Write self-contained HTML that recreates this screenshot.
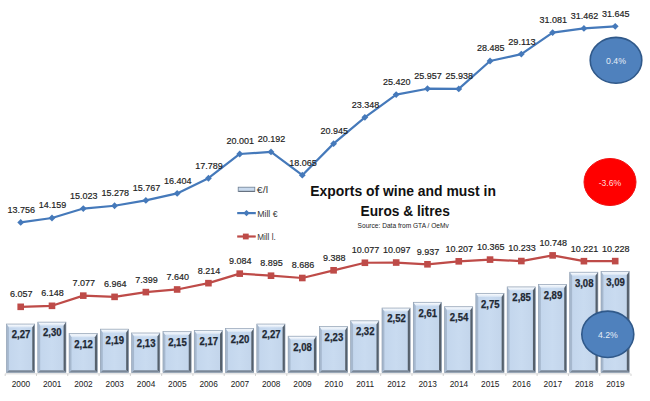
<!DOCTYPE html>
<html><head><meta charset="utf-8"><style>
html,body{margin:0;padding:0;background:#fff;}
body{width:650px;height:401px;overflow:hidden;position:relative;}
svg{position:absolute;left:0;top:0;}
text{font-family:"Liberation Sans",sans-serif;}
</style></head><body>
<svg width="650" height="401" viewBox="0 0 650 401">
<defs>
<linearGradient id="topg" x1="0" y1="0" x2="0" y2="1"><stop offset="0" stop-color="#d8e2ee"/><stop offset="0.35" stop-color="#f3f7fc"/><stop offset="1" stop-color="#d6e3f3"/></linearGradient>
<linearGradient id="bodyg" x1="0" y1="0" x2="1" y2="0"><stop offset="0" stop-color="#c2d5ec"/><stop offset="0.5" stop-color="#c9dbf0"/><stop offset="1" stop-color="#c2d4ea"/></linearGradient>
</defs>

<line x1="5.2" y1="373.8" x2="630.6" y2="373.8" stroke="#d0d0d0" stroke-width="0.8"/>
<line x1="5.20" y1="373.8" x2="5.20" y2="376" stroke="#c8c8c8" stroke-width="0.8"/>
<line x1="36.49" y1="373.8" x2="36.49" y2="376" stroke="#c8c8c8" stroke-width="0.8"/>
<line x1="67.78" y1="373.8" x2="67.78" y2="376" stroke="#c8c8c8" stroke-width="0.8"/>
<line x1="99.07" y1="373.8" x2="99.07" y2="376" stroke="#c8c8c8" stroke-width="0.8"/>
<line x1="130.36" y1="373.8" x2="130.36" y2="376" stroke="#c8c8c8" stroke-width="0.8"/>
<line x1="161.65" y1="373.8" x2="161.65" y2="376" stroke="#c8c8c8" stroke-width="0.8"/>
<line x1="192.94" y1="373.8" x2="192.94" y2="376" stroke="#c8c8c8" stroke-width="0.8"/>
<line x1="224.23" y1="373.8" x2="224.23" y2="376" stroke="#c8c8c8" stroke-width="0.8"/>
<line x1="255.52" y1="373.8" x2="255.52" y2="376" stroke="#c8c8c8" stroke-width="0.8"/>
<line x1="286.81" y1="373.8" x2="286.81" y2="376" stroke="#c8c8c8" stroke-width="0.8"/>
<line x1="318.10" y1="373.8" x2="318.10" y2="376" stroke="#c8c8c8" stroke-width="0.8"/>
<line x1="349.39" y1="373.8" x2="349.39" y2="376" stroke="#c8c8c8" stroke-width="0.8"/>
<line x1="380.68" y1="373.8" x2="380.68" y2="376" stroke="#c8c8c8" stroke-width="0.8"/>
<line x1="411.97" y1="373.8" x2="411.97" y2="376" stroke="#c8c8c8" stroke-width="0.8"/>
<line x1="443.26" y1="373.8" x2="443.26" y2="376" stroke="#c8c8c8" stroke-width="0.8"/>
<line x1="474.55" y1="373.8" x2="474.55" y2="376" stroke="#c8c8c8" stroke-width="0.8"/>
<line x1="505.84" y1="373.8" x2="505.84" y2="376" stroke="#c8c8c8" stroke-width="0.8"/>
<line x1="537.13" y1="373.8" x2="537.13" y2="376" stroke="#c8c8c8" stroke-width="0.8"/>
<line x1="568.42" y1="373.8" x2="568.42" y2="376" stroke="#c8c8c8" stroke-width="0.8"/>
<line x1="599.71" y1="373.8" x2="599.71" y2="376" stroke="#c8c8c8" stroke-width="0.8"/>
<line x1="631.00" y1="373.8" x2="631.00" y2="376" stroke="#c8c8c8" stroke-width="0.8"/>
<g>
<rect x="6.50" y="324.00" width="28.20" height="48.60" fill="url(#bodyg)"/>
<polygon points="6.50,324.00 34.70,324.00 32.30,327.60 8.90,327.60" fill="url(#topg)"/>
<polygon points="6.50,324.00 8.90,327.60 8.90,370.20 6.50,372.60" fill="#a6b8ce"/>
<polygon points="34.70,324.00 34.70,372.60 32.30,370.20 32.30,327.60" fill="#55606c"/>
<polygon points="6.50,372.60 34.70,372.60 32.30,370.20 8.90,370.20" fill="#7a8797"/>
<rect x="6.50" y="324.00" width="28.20" height="48.60" fill="none" stroke="#8e9cad" stroke-width="0.6"/>
</g>
<text x="21.00" y="338.40" font-size="10.0" font-weight="bold" fill="#1e2833" stroke="#1e2833" stroke-width="0.25" text-anchor="middle" textLength="18.6" lengthAdjust="spacingAndGlyphs">2,27</text>
<g>
<rect x="37.79" y="322.08" width="28.20" height="50.52" fill="url(#bodyg)"/>
<polygon points="37.79,322.08 65.99,322.08 63.59,325.68 40.19,325.68" fill="url(#topg)"/>
<polygon points="37.79,322.08 40.19,325.68 40.19,370.20 37.79,372.60" fill="#a6b8ce"/>
<polygon points="65.99,322.08 65.99,372.60 63.59,370.20 63.59,325.68" fill="#55606c"/>
<polygon points="37.79,372.60 65.99,372.60 63.59,370.20 40.19,370.20" fill="#7a8797"/>
<rect x="37.79" y="322.08" width="28.20" height="50.52" fill="none" stroke="#8e9cad" stroke-width="0.6"/>
</g>
<text x="52.29" y="336.48" font-size="10.0" font-weight="bold" fill="#1e2833" stroke="#1e2833" stroke-width="0.25" text-anchor="middle" textLength="18.6" lengthAdjust="spacingAndGlyphs">2,30</text>
<g>
<rect x="69.08" y="333.60" width="28.20" height="39.00" fill="url(#bodyg)"/>
<polygon points="69.08,333.60 97.28,333.60 94.88,337.20 71.48,337.20" fill="url(#topg)"/>
<polygon points="69.08,333.60 71.48,337.20 71.48,370.20 69.08,372.60" fill="#a6b8ce"/>
<polygon points="97.28,333.60 97.28,372.60 94.88,370.20 94.88,337.20" fill="#55606c"/>
<polygon points="69.08,372.60 97.28,372.60 94.88,370.20 71.48,370.20" fill="#7a8797"/>
<rect x="69.08" y="333.60" width="28.20" height="39.00" fill="none" stroke="#8e9cad" stroke-width="0.6"/>
</g>
<text x="83.58" y="348.00" font-size="10.0" font-weight="bold" fill="#1e2833" stroke="#1e2833" stroke-width="0.25" text-anchor="middle" textLength="18.6" lengthAdjust="spacingAndGlyphs">2,12</text>
<g>
<rect x="100.37" y="329.12" width="28.20" height="43.48" fill="url(#bodyg)"/>
<polygon points="100.37,329.12 128.57,329.12 126.17,332.72 102.77,332.72" fill="url(#topg)"/>
<polygon points="100.37,329.12 102.77,332.72 102.77,370.20 100.37,372.60" fill="#a6b8ce"/>
<polygon points="128.57,329.12 128.57,372.60 126.17,370.20 126.17,332.72" fill="#55606c"/>
<polygon points="100.37,372.60 128.57,372.60 126.17,370.20 102.77,370.20" fill="#7a8797"/>
<rect x="100.37" y="329.12" width="28.20" height="43.48" fill="none" stroke="#8e9cad" stroke-width="0.6"/>
</g>
<text x="114.87" y="343.52" font-size="10.0" font-weight="bold" fill="#1e2833" stroke="#1e2833" stroke-width="0.25" text-anchor="middle" textLength="18.6" lengthAdjust="spacingAndGlyphs">2,19</text>
<g>
<rect x="131.66" y="332.96" width="28.20" height="39.64" fill="url(#bodyg)"/>
<polygon points="131.66,332.96 159.86,332.96 157.46,336.56 134.06,336.56" fill="url(#topg)"/>
<polygon points="131.66,332.96 134.06,336.56 134.06,370.20 131.66,372.60" fill="#a6b8ce"/>
<polygon points="159.86,332.96 159.86,372.60 157.46,370.20 157.46,336.56" fill="#55606c"/>
<polygon points="131.66,372.60 159.86,372.60 157.46,370.20 134.06,370.20" fill="#7a8797"/>
<rect x="131.66" y="332.96" width="28.20" height="39.64" fill="none" stroke="#8e9cad" stroke-width="0.6"/>
</g>
<text x="146.16" y="347.36" font-size="10.0" font-weight="bold" fill="#1e2833" stroke="#1e2833" stroke-width="0.25" text-anchor="middle" textLength="18.6" lengthAdjust="spacingAndGlyphs">2,13</text>
<g>
<rect x="162.95" y="331.68" width="28.20" height="40.92" fill="url(#bodyg)"/>
<polygon points="162.95,331.68 191.15,331.68 188.75,335.28 165.35,335.28" fill="url(#topg)"/>
<polygon points="162.95,331.68 165.35,335.28 165.35,370.20 162.95,372.60" fill="#a6b8ce"/>
<polygon points="191.15,331.68 191.15,372.60 188.75,370.20 188.75,335.28" fill="#55606c"/>
<polygon points="162.95,372.60 191.15,372.60 188.75,370.20 165.35,370.20" fill="#7a8797"/>
<rect x="162.95" y="331.68" width="28.20" height="40.92" fill="none" stroke="#8e9cad" stroke-width="0.6"/>
</g>
<text x="177.45" y="346.08" font-size="10.0" font-weight="bold" fill="#1e2833" stroke="#1e2833" stroke-width="0.25" text-anchor="middle" textLength="18.6" lengthAdjust="spacingAndGlyphs">2,15</text>
<g>
<rect x="194.24" y="330.40" width="28.20" height="42.20" fill="url(#bodyg)"/>
<polygon points="194.24,330.40 222.44,330.40 220.04,334.00 196.64,334.00" fill="url(#topg)"/>
<polygon points="194.24,330.40 196.64,334.00 196.64,370.20 194.24,372.60" fill="#a6b8ce"/>
<polygon points="222.44,330.40 222.44,372.60 220.04,370.20 220.04,334.00" fill="#55606c"/>
<polygon points="194.24,372.60 222.44,372.60 220.04,370.20 196.64,370.20" fill="#7a8797"/>
<rect x="194.24" y="330.40" width="28.20" height="42.20" fill="none" stroke="#8e9cad" stroke-width="0.6"/>
</g>
<text x="208.74" y="344.80" font-size="10.0" font-weight="bold" fill="#1e2833" stroke="#1e2833" stroke-width="0.25" text-anchor="middle" textLength="18.6" lengthAdjust="spacingAndGlyphs">2,17</text>
<g>
<rect x="225.53" y="328.48" width="28.20" height="44.12" fill="url(#bodyg)"/>
<polygon points="225.53,328.48 253.73,328.48 251.33,332.08 227.93,332.08" fill="url(#topg)"/>
<polygon points="225.53,328.48 227.93,332.08 227.93,370.20 225.53,372.60" fill="#a6b8ce"/>
<polygon points="253.73,328.48 253.73,372.60 251.33,370.20 251.33,332.08" fill="#55606c"/>
<polygon points="225.53,372.60 253.73,372.60 251.33,370.20 227.93,370.20" fill="#7a8797"/>
<rect x="225.53" y="328.48" width="28.20" height="44.12" fill="none" stroke="#8e9cad" stroke-width="0.6"/>
</g>
<text x="240.03" y="342.88" font-size="10.0" font-weight="bold" fill="#1e2833" stroke="#1e2833" stroke-width="0.25" text-anchor="middle" textLength="18.6" lengthAdjust="spacingAndGlyphs">2,20</text>
<g>
<rect x="256.82" y="324.00" width="28.20" height="48.60" fill="url(#bodyg)"/>
<polygon points="256.82,324.00 285.02,324.00 282.62,327.60 259.22,327.60" fill="url(#topg)"/>
<polygon points="256.82,324.00 259.22,327.60 259.22,370.20 256.82,372.60" fill="#a6b8ce"/>
<polygon points="285.02,324.00 285.02,372.60 282.62,370.20 282.62,327.60" fill="#55606c"/>
<polygon points="256.82,372.60 285.02,372.60 282.62,370.20 259.22,370.20" fill="#7a8797"/>
<rect x="256.82" y="324.00" width="28.20" height="48.60" fill="none" stroke="#8e9cad" stroke-width="0.6"/>
</g>
<text x="271.32" y="338.40" font-size="10.0" font-weight="bold" fill="#1e2833" stroke="#1e2833" stroke-width="0.25" text-anchor="middle" textLength="18.6" lengthAdjust="spacingAndGlyphs">2,27</text>
<g>
<rect x="288.11" y="336.16" width="28.20" height="36.44" fill="url(#bodyg)"/>
<polygon points="288.11,336.16 316.31,336.16 313.91,339.76 290.51,339.76" fill="url(#topg)"/>
<polygon points="288.11,336.16 290.51,339.76 290.51,370.20 288.11,372.60" fill="#a6b8ce"/>
<polygon points="316.31,336.16 316.31,372.60 313.91,370.20 313.91,339.76" fill="#55606c"/>
<polygon points="288.11,372.60 316.31,372.60 313.91,370.20 290.51,370.20" fill="#7a8797"/>
<rect x="288.11" y="336.16" width="28.20" height="36.44" fill="none" stroke="#8e9cad" stroke-width="0.6"/>
</g>
<text x="302.61" y="350.56" font-size="10.0" font-weight="bold" fill="#1e2833" stroke="#1e2833" stroke-width="0.25" text-anchor="middle" textLength="18.6" lengthAdjust="spacingAndGlyphs">2,08</text>
<g>
<rect x="319.40" y="326.56" width="28.20" height="46.04" fill="url(#bodyg)"/>
<polygon points="319.40,326.56 347.60,326.56 345.20,330.16 321.80,330.16" fill="url(#topg)"/>
<polygon points="319.40,326.56 321.80,330.16 321.80,370.20 319.40,372.60" fill="#a6b8ce"/>
<polygon points="347.60,326.56 347.60,372.60 345.20,370.20 345.20,330.16" fill="#55606c"/>
<polygon points="319.40,372.60 347.60,372.60 345.20,370.20 321.80,370.20" fill="#7a8797"/>
<rect x="319.40" y="326.56" width="28.20" height="46.04" fill="none" stroke="#8e9cad" stroke-width="0.6"/>
</g>
<text x="333.90" y="340.96" font-size="10.0" font-weight="bold" fill="#1e2833" stroke="#1e2833" stroke-width="0.25" text-anchor="middle" textLength="18.6" lengthAdjust="spacingAndGlyphs">2,23</text>
<g>
<rect x="350.69" y="320.80" width="28.20" height="51.80" fill="url(#bodyg)"/>
<polygon points="350.69,320.80 378.89,320.80 376.49,324.40 353.09,324.40" fill="url(#topg)"/>
<polygon points="350.69,320.80 353.09,324.40 353.09,370.20 350.69,372.60" fill="#a6b8ce"/>
<polygon points="378.89,320.80 378.89,372.60 376.49,370.20 376.49,324.40" fill="#55606c"/>
<polygon points="350.69,372.60 378.89,372.60 376.49,370.20 353.09,370.20" fill="#7a8797"/>
<rect x="350.69" y="320.80" width="28.20" height="51.80" fill="none" stroke="#8e9cad" stroke-width="0.6"/>
</g>
<text x="365.19" y="335.20" font-size="10.0" font-weight="bold" fill="#1e2833" stroke="#1e2833" stroke-width="0.25" text-anchor="middle" textLength="18.6" lengthAdjust="spacingAndGlyphs">2,32</text>
<g>
<rect x="381.98" y="308.00" width="28.20" height="64.60" fill="url(#bodyg)"/>
<polygon points="381.98,308.00 410.18,308.00 407.78,311.60 384.38,311.60" fill="url(#topg)"/>
<polygon points="381.98,308.00 384.38,311.60 384.38,370.20 381.98,372.60" fill="#a6b8ce"/>
<polygon points="410.18,308.00 410.18,372.60 407.78,370.20 407.78,311.60" fill="#55606c"/>
<polygon points="381.98,372.60 410.18,372.60 407.78,370.20 384.38,370.20" fill="#7a8797"/>
<rect x="381.98" y="308.00" width="28.20" height="64.60" fill="none" stroke="#8e9cad" stroke-width="0.6"/>
</g>
<text x="396.48" y="322.40" font-size="10.0" font-weight="bold" fill="#1e2833" stroke="#1e2833" stroke-width="0.25" text-anchor="middle" textLength="18.6" lengthAdjust="spacingAndGlyphs">2,52</text>
<g>
<rect x="413.27" y="302.24" width="28.20" height="70.36" fill="url(#bodyg)"/>
<polygon points="413.27,302.24 441.47,302.24 439.07,305.84 415.67,305.84" fill="url(#topg)"/>
<polygon points="413.27,302.24 415.67,305.84 415.67,370.20 413.27,372.60" fill="#a6b8ce"/>
<polygon points="441.47,302.24 441.47,372.60 439.07,370.20 439.07,305.84" fill="#55606c"/>
<polygon points="413.27,372.60 441.47,372.60 439.07,370.20 415.67,370.20" fill="#7a8797"/>
<rect x="413.27" y="302.24" width="28.20" height="70.36" fill="none" stroke="#8e9cad" stroke-width="0.6"/>
</g>
<text x="427.77" y="316.64" font-size="10.0" font-weight="bold" fill="#1e2833" stroke="#1e2833" stroke-width="0.25" text-anchor="middle" textLength="18.6" lengthAdjust="spacingAndGlyphs">2,61</text>
<g>
<rect x="444.56" y="306.72" width="28.20" height="65.88" fill="url(#bodyg)"/>
<polygon points="444.56,306.72 472.76,306.72 470.36,310.32 446.96,310.32" fill="url(#topg)"/>
<polygon points="444.56,306.72 446.96,310.32 446.96,370.20 444.56,372.60" fill="#a6b8ce"/>
<polygon points="472.76,306.72 472.76,372.60 470.36,370.20 470.36,310.32" fill="#55606c"/>
<polygon points="444.56,372.60 472.76,372.60 470.36,370.20 446.96,370.20" fill="#7a8797"/>
<rect x="444.56" y="306.72" width="28.20" height="65.88" fill="none" stroke="#8e9cad" stroke-width="0.6"/>
</g>
<text x="459.06" y="321.12" font-size="10.0" font-weight="bold" fill="#1e2833" stroke="#1e2833" stroke-width="0.25" text-anchor="middle" textLength="18.6" lengthAdjust="spacingAndGlyphs">2,54</text>
<g>
<rect x="475.85" y="293.28" width="28.20" height="79.32" fill="url(#bodyg)"/>
<polygon points="475.85,293.28 504.05,293.28 501.65,296.88 478.25,296.88" fill="url(#topg)"/>
<polygon points="475.85,293.28 478.25,296.88 478.25,370.20 475.85,372.60" fill="#a6b8ce"/>
<polygon points="504.05,293.28 504.05,372.60 501.65,370.20 501.65,296.88" fill="#55606c"/>
<polygon points="475.85,372.60 504.05,372.60 501.65,370.20 478.25,370.20" fill="#7a8797"/>
<rect x="475.85" y="293.28" width="28.20" height="79.32" fill="none" stroke="#8e9cad" stroke-width="0.6"/>
</g>
<text x="490.35" y="307.68" font-size="10.0" font-weight="bold" fill="#1e2833" stroke="#1e2833" stroke-width="0.25" text-anchor="middle" textLength="18.6" lengthAdjust="spacingAndGlyphs">2,75</text>
<g>
<rect x="507.14" y="286.88" width="28.20" height="85.72" fill="url(#bodyg)"/>
<polygon points="507.14,286.88 535.34,286.88 532.94,290.48 509.54,290.48" fill="url(#topg)"/>
<polygon points="507.14,286.88 509.54,290.48 509.54,370.20 507.14,372.60" fill="#a6b8ce"/>
<polygon points="535.34,286.88 535.34,372.60 532.94,370.20 532.94,290.48" fill="#55606c"/>
<polygon points="507.14,372.60 535.34,372.60 532.94,370.20 509.54,370.20" fill="#7a8797"/>
<rect x="507.14" y="286.88" width="28.20" height="85.72" fill="none" stroke="#8e9cad" stroke-width="0.6"/>
</g>
<text x="521.64" y="301.28" font-size="10.0" font-weight="bold" fill="#1e2833" stroke="#1e2833" stroke-width="0.25" text-anchor="middle" textLength="18.6" lengthAdjust="spacingAndGlyphs">2,85</text>
<g>
<rect x="538.43" y="284.32" width="28.20" height="88.28" fill="url(#bodyg)"/>
<polygon points="538.43,284.32 566.63,284.32 564.23,287.92 540.83,287.92" fill="url(#topg)"/>
<polygon points="538.43,284.32 540.83,287.92 540.83,370.20 538.43,372.60" fill="#a6b8ce"/>
<polygon points="566.63,284.32 566.63,372.60 564.23,370.20 564.23,287.92" fill="#55606c"/>
<polygon points="538.43,372.60 566.63,372.60 564.23,370.20 540.83,370.20" fill="#7a8797"/>
<rect x="538.43" y="284.32" width="28.20" height="88.28" fill="none" stroke="#8e9cad" stroke-width="0.6"/>
</g>
<text x="552.93" y="298.72" font-size="10.0" font-weight="bold" fill="#1e2833" stroke="#1e2833" stroke-width="0.25" text-anchor="middle" textLength="18.6" lengthAdjust="spacingAndGlyphs">2,89</text>
<g>
<rect x="569.72" y="272.16" width="28.20" height="100.44" fill="url(#bodyg)"/>
<polygon points="569.72,272.16 597.92,272.16 595.52,275.76 572.12,275.76" fill="url(#topg)"/>
<polygon points="569.72,272.16 572.12,275.76 572.12,370.20 569.72,372.60" fill="#a6b8ce"/>
<polygon points="597.92,272.16 597.92,372.60 595.52,370.20 595.52,275.76" fill="#55606c"/>
<polygon points="569.72,372.60 597.92,372.60 595.52,370.20 572.12,370.20" fill="#7a8797"/>
<rect x="569.72" y="272.16" width="28.20" height="100.44" fill="none" stroke="#8e9cad" stroke-width="0.6"/>
</g>
<text x="584.22" y="286.56" font-size="10.0" font-weight="bold" fill="#1e2833" stroke="#1e2833" stroke-width="0.25" text-anchor="middle" textLength="18.6" lengthAdjust="spacingAndGlyphs">3,08</text>
<g>
<rect x="601.01" y="271.52" width="28.20" height="101.08" fill="url(#bodyg)"/>
<polygon points="601.01,271.52 629.21,271.52 626.81,275.12 603.41,275.12" fill="url(#topg)"/>
<polygon points="601.01,271.52 603.41,275.12 603.41,370.20 601.01,372.60" fill="#a6b8ce"/>
<polygon points="629.21,271.52 629.21,372.60 626.81,370.20 626.81,275.12" fill="#55606c"/>
<polygon points="601.01,372.60 629.21,372.60 626.81,370.20 603.41,370.20" fill="#7a8797"/>
<rect x="601.01" y="271.52" width="28.20" height="101.08" fill="none" stroke="#8e9cad" stroke-width="0.6"/>
</g>
<text x="615.51" y="285.92" font-size="10.0" font-weight="bold" fill="#1e2833" stroke="#1e2833" stroke-width="0.25" text-anchor="middle" textLength="18.6" lengthAdjust="spacingAndGlyphs">3,09</text>
<text x="20.90" y="387.0" font-size="8.3" fill="#1a1a1a" text-anchor="middle">2000</text>
<text x="52.19" y="387.0" font-size="8.3" fill="#1a1a1a" text-anchor="middle">2001</text>
<text x="83.48" y="387.0" font-size="8.3" fill="#1a1a1a" text-anchor="middle">2002</text>
<text x="114.77" y="387.0" font-size="8.3" fill="#1a1a1a" text-anchor="middle">2003</text>
<text x="146.06" y="387.0" font-size="8.3" fill="#1a1a1a" text-anchor="middle">2004</text>
<text x="177.35" y="387.0" font-size="8.3" fill="#1a1a1a" text-anchor="middle">2005</text>
<text x="208.64" y="387.0" font-size="8.3" fill="#1a1a1a" text-anchor="middle">2006</text>
<text x="239.93" y="387.0" font-size="8.3" fill="#1a1a1a" text-anchor="middle">2007</text>
<text x="271.22" y="387.0" font-size="8.3" fill="#1a1a1a" text-anchor="middle">2008</text>
<text x="302.51" y="387.0" font-size="8.3" fill="#1a1a1a" text-anchor="middle">2009</text>
<text x="333.80" y="387.0" font-size="8.3" fill="#1a1a1a" text-anchor="middle">2010</text>
<text x="365.09" y="387.0" font-size="8.3" fill="#1a1a1a" text-anchor="middle">2011</text>
<text x="396.38" y="387.0" font-size="8.3" fill="#1a1a1a" text-anchor="middle">2012</text>
<text x="427.67" y="387.0" font-size="8.3" fill="#1a1a1a" text-anchor="middle">2013</text>
<text x="458.96" y="387.0" font-size="8.3" fill="#1a1a1a" text-anchor="middle">2014</text>
<text x="490.25" y="387.0" font-size="8.3" fill="#1a1a1a" text-anchor="middle">2015</text>
<text x="521.54" y="387.0" font-size="8.3" fill="#1a1a1a" text-anchor="middle">2016</text>
<text x="552.83" y="387.0" font-size="8.3" fill="#1a1a1a" text-anchor="middle">2017</text>
<text x="584.12" y="387.0" font-size="8.3" fill="#1a1a1a" text-anchor="middle">2018</text>
<text x="615.41" y="387.0" font-size="8.3" fill="#1a1a1a" text-anchor="middle">2019</text>
<polyline points="20.70,222.43 51.99,218.02 83.28,208.55 114.57,205.75 145.86,200.39 177.15,193.41 208.44,178.23 239.73,153.99 271.02,151.90 302.31,175.21 333.60,143.64 364.89,117.31 396.18,94.60 427.47,88.71 458.76,88.92 490.05,61.00 521.34,54.12 552.63,32.55 583.92,28.38 615.21,26.37" fill="none" stroke="#4579ba" stroke-width="2.2" stroke-linejoin="round"/>
<polyline points="20.70,306.82 51.99,305.82 83.28,295.64 114.57,296.87 145.86,292.11 177.15,289.47 208.44,283.17 239.73,273.64 271.02,275.71 302.31,278.00 333.60,270.31 364.89,262.76 396.18,262.54 427.47,264.29 458.76,261.33 490.05,259.60 521.34,261.05 552.63,255.40 583.92,261.18 615.21,261.10" fill="none" stroke="#be4b48" stroke-width="2.2" stroke-linejoin="round"/>
<polygon points="20.70,219.03 24.10,222.43 20.70,225.83 17.30,222.43" fill="#4579ba"/>
<text x="21.30" y="212.83" font-size="9.5" fill="#222" stroke="#222" stroke-width="0.18" text-anchor="middle" textLength="27.52" lengthAdjust="spacingAndGlyphs">13.756</text>
<polygon points="51.99,214.62 55.39,218.02 51.99,221.42 48.59,218.02" fill="#4579ba"/>
<text x="52.59" y="208.42" font-size="9.5" fill="#222" stroke="#222" stroke-width="0.18" text-anchor="middle" textLength="27.52" lengthAdjust="spacingAndGlyphs">14.159</text>
<polygon points="83.28,205.15 86.68,208.55 83.28,211.95 79.88,208.55" fill="#4579ba"/>
<text x="83.88" y="198.95" font-size="9.5" fill="#222" stroke="#222" stroke-width="0.18" text-anchor="middle" textLength="27.52" lengthAdjust="spacingAndGlyphs">15.023</text>
<polygon points="114.57,202.35 117.97,205.75 114.57,209.15 111.17,205.75" fill="#4579ba"/>
<text x="115.17" y="196.15" font-size="9.5" fill="#222" stroke="#222" stroke-width="0.18" text-anchor="middle" textLength="27.52" lengthAdjust="spacingAndGlyphs">15.278</text>
<polygon points="145.86,196.99 149.26,200.39 145.86,203.79 142.46,200.39" fill="#4579ba"/>
<text x="146.46" y="190.79" font-size="9.5" fill="#222" stroke="#222" stroke-width="0.18" text-anchor="middle" textLength="27.52" lengthAdjust="spacingAndGlyphs">15.767</text>
<polygon points="177.15,190.01 180.55,193.41 177.15,196.81 173.75,193.41" fill="#4579ba"/>
<text x="177.75" y="183.81" font-size="9.5" fill="#222" stroke="#222" stroke-width="0.18" text-anchor="middle" textLength="27.52" lengthAdjust="spacingAndGlyphs">16.404</text>
<polygon points="208.44,174.83 211.84,178.23 208.44,181.63 205.04,178.23" fill="#4579ba"/>
<text x="209.04" y="168.63" font-size="9.5" fill="#222" stroke="#222" stroke-width="0.18" text-anchor="middle" textLength="27.52" lengthAdjust="spacingAndGlyphs">17.789</text>
<polygon points="239.73,150.59 243.13,153.99 239.73,157.39 236.33,153.99" fill="#4579ba"/>
<text x="240.33" y="144.39" font-size="9.5" fill="#222" stroke="#222" stroke-width="0.18" text-anchor="middle" textLength="27.52" lengthAdjust="spacingAndGlyphs">20.001</text>
<polygon points="271.02,148.50 274.42,151.90 271.02,155.30 267.62,151.90" fill="#4579ba"/>
<text x="271.62" y="142.30" font-size="9.5" fill="#222" stroke="#222" stroke-width="0.18" text-anchor="middle" textLength="27.52" lengthAdjust="spacingAndGlyphs">20.192</text>
<polygon points="302.31,171.81 305.71,175.21 302.31,178.61 298.91,175.21" fill="#4579ba"/>
<text x="302.91" y="165.61" font-size="9.5" fill="#222" stroke="#222" stroke-width="0.18" text-anchor="middle" textLength="27.52" lengthAdjust="spacingAndGlyphs">18.065</text>
<polygon points="333.60,140.24 337.00,143.64 333.60,147.04 330.20,143.64" fill="#4579ba"/>
<text x="334.20" y="134.04" font-size="9.5" fill="#222" stroke="#222" stroke-width="0.18" text-anchor="middle" textLength="27.52" lengthAdjust="spacingAndGlyphs">20.945</text>
<polygon points="364.89,113.91 368.29,117.31 364.89,120.71 361.49,117.31" fill="#4579ba"/>
<text x="365.49" y="107.71" font-size="9.5" fill="#222" stroke="#222" stroke-width="0.18" text-anchor="middle" textLength="27.52" lengthAdjust="spacingAndGlyphs">23.348</text>
<polygon points="396.18,91.20 399.58,94.60 396.18,98.00 392.78,94.60" fill="#4579ba"/>
<text x="396.78" y="85.00" font-size="9.5" fill="#222" stroke="#222" stroke-width="0.18" text-anchor="middle" textLength="27.52" lengthAdjust="spacingAndGlyphs">25.420</text>
<polygon points="427.47,85.31 430.87,88.71 427.47,92.11 424.07,88.71" fill="#4579ba"/>
<text x="428.07" y="79.11" font-size="9.5" fill="#222" stroke="#222" stroke-width="0.18" text-anchor="middle" textLength="27.52" lengthAdjust="spacingAndGlyphs">25.957</text>
<polygon points="458.76,85.52 462.16,88.92 458.76,92.32 455.36,88.92" fill="#4579ba"/>
<text x="459.36" y="79.32" font-size="9.5" fill="#222" stroke="#222" stroke-width="0.18" text-anchor="middle" textLength="27.52" lengthAdjust="spacingAndGlyphs">25.938</text>
<polygon points="490.05,57.60 493.45,61.00 490.05,64.40 486.65,61.00" fill="#4579ba"/>
<text x="490.65" y="51.40" font-size="9.5" fill="#222" stroke="#222" stroke-width="0.18" text-anchor="middle" textLength="27.52" lengthAdjust="spacingAndGlyphs">28.485</text>
<polygon points="521.34,50.72 524.74,54.12 521.34,57.52 517.94,54.12" fill="#4579ba"/>
<text x="521.94" y="44.52" font-size="9.5" fill="#222" stroke="#222" stroke-width="0.18" text-anchor="middle" textLength="27.52" lengthAdjust="spacingAndGlyphs">29.113</text>
<polygon points="552.63,29.15 556.03,32.55 552.63,35.95 549.23,32.55" fill="#4579ba"/>
<text x="553.23" y="22.95" font-size="9.5" fill="#222" stroke="#222" stroke-width="0.18" text-anchor="middle" textLength="27.52" lengthAdjust="spacingAndGlyphs">31.081</text>
<polygon points="583.92,24.98 587.32,28.38 583.92,31.78 580.52,28.38" fill="#4579ba"/>
<text x="584.52" y="18.78" font-size="9.5" fill="#222" stroke="#222" stroke-width="0.18" text-anchor="middle" textLength="27.52" lengthAdjust="spacingAndGlyphs">31.462</text>
<polygon points="615.21,22.97 618.61,26.37 615.21,29.77 611.81,26.37" fill="#4579ba"/>
<text x="615.81" y="16.77" font-size="9.5" fill="#222" stroke="#222" stroke-width="0.18" text-anchor="middle" textLength="27.52" lengthAdjust="spacingAndGlyphs">31.645</text>
<rect x="17.40" y="303.52" width="6.60" height="6.60" fill="#be4b48"/>
<text x="21.30" y="297.22" font-size="9.5" fill="#222" stroke="#222" stroke-width="0.18" text-anchor="middle" textLength="22.52" lengthAdjust="spacingAndGlyphs">6.057</text>
<rect x="48.69" y="302.52" width="6.60" height="6.60" fill="#be4b48"/>
<text x="52.59" y="296.22" font-size="9.5" fill="#222" stroke="#222" stroke-width="0.18" text-anchor="middle" textLength="22.52" lengthAdjust="spacingAndGlyphs">6.148</text>
<rect x="79.98" y="292.34" width="6.60" height="6.60" fill="#be4b48"/>
<text x="83.88" y="286.04" font-size="9.5" fill="#222" stroke="#222" stroke-width="0.18" text-anchor="middle" textLength="22.52" lengthAdjust="spacingAndGlyphs">7.077</text>
<rect x="111.27" y="293.57" width="6.60" height="6.60" fill="#be4b48"/>
<text x="115.17" y="287.27" font-size="9.5" fill="#222" stroke="#222" stroke-width="0.18" text-anchor="middle" textLength="22.52" lengthAdjust="spacingAndGlyphs">6.964</text>
<rect x="142.56" y="288.81" width="6.60" height="6.60" fill="#be4b48"/>
<text x="146.46" y="282.51" font-size="9.5" fill="#222" stroke="#222" stroke-width="0.18" text-anchor="middle" textLength="22.52" lengthAdjust="spacingAndGlyphs">7.399</text>
<rect x="173.85" y="286.17" width="6.60" height="6.60" fill="#be4b48"/>
<text x="177.75" y="279.87" font-size="9.5" fill="#222" stroke="#222" stroke-width="0.18" text-anchor="middle" textLength="22.52" lengthAdjust="spacingAndGlyphs">7.640</text>
<rect x="205.14" y="279.87" width="6.60" height="6.60" fill="#be4b48"/>
<text x="209.04" y="273.57" font-size="9.5" fill="#222" stroke="#222" stroke-width="0.18" text-anchor="middle" textLength="22.52" lengthAdjust="spacingAndGlyphs">8.214</text>
<rect x="236.43" y="270.34" width="6.60" height="6.60" fill="#be4b48"/>
<text x="240.33" y="264.04" font-size="9.5" fill="#222" stroke="#222" stroke-width="0.18" text-anchor="middle" textLength="22.52" lengthAdjust="spacingAndGlyphs">9.084</text>
<rect x="267.72" y="272.41" width="6.60" height="6.60" fill="#be4b48"/>
<text x="271.62" y="266.11" font-size="9.5" fill="#222" stroke="#222" stroke-width="0.18" text-anchor="middle" textLength="22.52" lengthAdjust="spacingAndGlyphs">8.895</text>
<rect x="299.01" y="274.70" width="6.60" height="6.60" fill="#be4b48"/>
<text x="302.91" y="268.40" font-size="9.5" fill="#222" stroke="#222" stroke-width="0.18" text-anchor="middle" textLength="22.52" lengthAdjust="spacingAndGlyphs">8.686</text>
<rect x="330.30" y="267.01" width="6.60" height="6.60" fill="#be4b48"/>
<text x="334.20" y="260.71" font-size="9.5" fill="#222" stroke="#222" stroke-width="0.18" text-anchor="middle" textLength="22.52" lengthAdjust="spacingAndGlyphs">9.388</text>
<rect x="361.59" y="259.46" width="6.60" height="6.60" fill="#be4b48"/>
<text x="365.49" y="253.16" font-size="9.5" fill="#222" stroke="#222" stroke-width="0.18" text-anchor="middle" textLength="27.52" lengthAdjust="spacingAndGlyphs">10.077</text>
<rect x="392.88" y="259.24" width="6.60" height="6.60" fill="#be4b48"/>
<text x="396.78" y="252.94" font-size="9.5" fill="#222" stroke="#222" stroke-width="0.18" text-anchor="middle" textLength="27.52" lengthAdjust="spacingAndGlyphs">10.097</text>
<rect x="424.17" y="260.99" width="6.60" height="6.60" fill="#be4b48"/>
<text x="428.07" y="254.69" font-size="9.5" fill="#222" stroke="#222" stroke-width="0.18" text-anchor="middle" textLength="22.52" lengthAdjust="spacingAndGlyphs">9.937</text>
<rect x="455.46" y="258.03" width="6.60" height="6.60" fill="#be4b48"/>
<text x="459.36" y="251.73" font-size="9.5" fill="#222" stroke="#222" stroke-width="0.18" text-anchor="middle" textLength="27.52" lengthAdjust="spacingAndGlyphs">10.207</text>
<rect x="486.75" y="256.30" width="6.60" height="6.60" fill="#be4b48"/>
<text x="490.65" y="250.00" font-size="9.5" fill="#222" stroke="#222" stroke-width="0.18" text-anchor="middle" textLength="27.52" lengthAdjust="spacingAndGlyphs">10.365</text>
<rect x="518.04" y="257.75" width="6.60" height="6.60" fill="#be4b48"/>
<text x="521.94" y="251.45" font-size="9.5" fill="#222" stroke="#222" stroke-width="0.18" text-anchor="middle" textLength="27.52" lengthAdjust="spacingAndGlyphs">10.233</text>
<rect x="549.33" y="252.10" width="6.60" height="6.60" fill="#be4b48"/>
<text x="553.23" y="245.80" font-size="9.5" fill="#222" stroke="#222" stroke-width="0.18" text-anchor="middle" textLength="27.52" lengthAdjust="spacingAndGlyphs">10.748</text>
<rect x="580.62" y="257.88" width="6.60" height="6.60" fill="#be4b48"/>
<text x="584.52" y="251.58" font-size="9.5" fill="#222" stroke="#222" stroke-width="0.18" text-anchor="middle" textLength="27.52" lengthAdjust="spacingAndGlyphs">10.221</text>
<rect x="611.91" y="257.80" width="6.60" height="6.60" fill="#be4b48"/>
<text x="615.81" y="251.50" font-size="9.5" fill="#222" stroke="#222" stroke-width="0.18" text-anchor="middle" textLength="27.52" lengthAdjust="spacingAndGlyphs">10.228</text>
<rect x="238.2" y="187.2" width="16.6" height="4.2" fill="#c9daee" stroke="#6f7f93" stroke-width="0.8"/>
<line x1="238.6" y1="191.3" x2="254.8" y2="191.3" stroke="#55606c" stroke-width="0.8"/>
<text x="256.8" y="193.3" font-size="8.4" fill="#383838" textLength="11.2" lengthAdjust="spacingAndGlyphs">€/l</text>
<line x1="237.2" y1="213.1" x2="255.8" y2="213.1" stroke="#4579ba" stroke-width="2.2"/>
<polygon points="246.5,209.9 249.7,213.1 246.5,216.3 243.3,213.1" fill="#4579ba"/>
<text x="257.2" y="216.9" font-size="8.4" fill="#383838" textLength="20.4" lengthAdjust="spacingAndGlyphs">Mill €</text>
<line x1="237.2" y1="236.5" x2="255.8" y2="236.5" stroke="#be4b48" stroke-width="2.2"/>
<rect x="242.9" y="233.6" width="5.8" height="5.8" fill="#be4b48"/>
<text x="257.2" y="240.2" font-size="8.4" fill="#383838" textLength="18.6" lengthAdjust="spacingAndGlyphs">Mill l.</text>
<text x="310.3" y="196.4" font-size="14" font-weight="bold" fill="#111" textLength="185.6" lengthAdjust="spacingAndGlyphs">Exports of wine and must in</text>
<text x="360.6" y="216.4" font-size="14" font-weight="bold" fill="#111" textLength="89.2" lengthAdjust="spacingAndGlyphs">Euros &amp; litres</text>
<text x="357.6" y="227.7" font-size="6.9" fill="#222" textLength="91.2" lengthAdjust="spacingAndGlyphs">Source: Data from GTA / OeMv</text>
<ellipse cx="616" cy="60.3" rx="25.8" ry="22.9" fill="#4f81bd" stroke="#30598a" stroke-width="1.6"/>
<text x="616" y="64.3" font-size="8.7" fill="#e6edf6" text-anchor="middle">0.4%</text>
<ellipse cx="610" cy="182" rx="26" ry="23.5" fill="#ff0000" stroke="#f01010" stroke-width="1"/>
<text x="610" y="185.8" font-size="8.7" fill="#ffd8d8" text-anchor="middle">-3.6%</text>
<ellipse cx="607.8" cy="334.3" rx="26" ry="23.2" fill="#4f81bd" stroke="#30598a" stroke-width="1.6"/>
<text x="607.8" y="338.3" font-size="8.7" fill="#e6edf6" text-anchor="middle">4.2%</text>
</svg></body></html>
